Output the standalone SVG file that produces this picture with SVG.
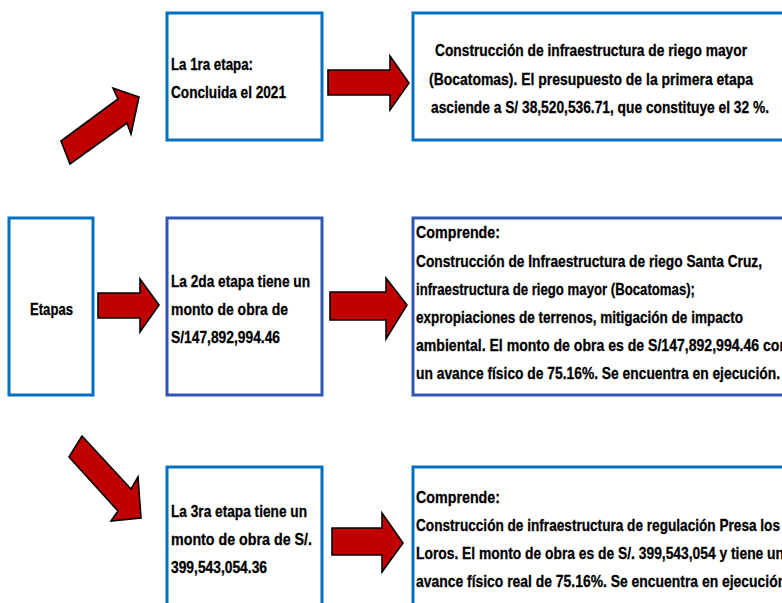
<svg xmlns="http://www.w3.org/2000/svg" width="782" height="603" viewBox="0 0 782 603">
<style>
.t{font-family:"Liberation Sans",Arial,sans-serif;font-weight:bold;font-size:17px;fill:#000;stroke:#000;stroke-width:0.3}
.b1{fill:#fff;stroke:#0070C0;stroke-width:3}
.b2{fill:#fff;stroke:#3055B8;stroke-width:3}
.ar{fill:#C00000;stroke:#000;stroke-width:1.6;stroke-linejoin:miter}
</style>
<rect width="782" height="603" fill="#fff"/>
<g id="connectors">
<polygon class="ar" points="61,141 118,99 113,88 139,97 131,134 127,123 70,164"/>
<polygon class="ar" points="98,293 140,293 140,279 159,305 140,332 140,318 98,318"/>
<polygon class="ar" points="82,436 131,489 138,477 141,518 111,521 118,511 69,457"/>
<polygon class="ar" points="328,70 390,70 390,56 409,83 390,110 390,95 328,95"/>
<polygon class="ar" points="330,292 386,292 386,278 407,305 386,339 386,320 330,320"/>
<polygon class="ar" points="332,528 382,528 382,513 403,543 382,572 382,555 332,555"/>
</g>
<g id="etapas">
<rect class="b1" x="9" y="218" width="84" height="177"/>
<text class="t" x="30" y="315" textLength="43" lengthAdjust="spacingAndGlyphs">Etapas</text>
</g>
<g id="etapa1">
<rect class="b1" x="167" y="13" width="155" height="127"/>
<text class="t" x="171" y="70" textLength="82" lengthAdjust="spacingAndGlyphs">La 1ra etapa:</text>
<text class="t" x="171" y="98" textLength="115" lengthAdjust="spacingAndGlyphs">Concluida el 2021</text>
</g>
<g id="detalle1">
<rect class="b1" x="413" y="13" width="374" height="127"/>
<text class="t" x="435" y="56" textLength="312" lengthAdjust="spacingAndGlyphs">Construcción de infraestructura de riego mayor</text>
<text class="t" x="429" y="85" textLength="324" lengthAdjust="spacingAndGlyphs">(Bocatomas). El presupuesto de la primera etapa</text>
<text class="t" x="431" y="113" textLength="338" lengthAdjust="spacingAndGlyphs">asciende a S/ 38,520,536.71, que constituye el 32 %.</text>
</g>
<g id="etapa2">
<rect class="b2" x="167" y="218" width="155" height="177"/>
<text class="t" x="171" y="287" textLength="139" lengthAdjust="spacingAndGlyphs">La 2da etapa tiene un</text>
<text class="t" x="171" y="315" textLength="117" lengthAdjust="spacingAndGlyphs">monto de obra de</text>
<text class="t" x="171" y="343" textLength="109" lengthAdjust="spacingAndGlyphs">S/147,892,994.46</text>
</g>
<g id="detalle2">
<rect class="b2" x="413" y="218" width="374" height="177"/>
<text class="t" x="416" y="238" textLength="84" lengthAdjust="spacingAndGlyphs">Comprende:</text>
<text class="t" x="416" y="267" textLength="346" lengthAdjust="spacingAndGlyphs">Construcción de Infraestructura de riego Santa Cruz,</text>
<text class="t" x="416" y="295" textLength="279" lengthAdjust="spacingAndGlyphs">infraestructura de riego mayor (Bocatomas);</text>
<text class="t" x="416" y="323" textLength="327" lengthAdjust="spacingAndGlyphs">expropiaciones de terrenos, mitigación de impacto</text>
<text class="t" x="416" y="351" textLength="372" lengthAdjust="spacingAndGlyphs">ambiental. El monto de obra es de S/147,892,994.46 con</text>
<text class="t" x="416" y="379" textLength="364" lengthAdjust="spacingAndGlyphs">un avance físico de 75.16%. Se encuentra en ejecución.</text>
</g>
<g id="etapa3">
<rect class="b1" x="167" y="467" width="155" height="160"/>
<text class="t" x="171" y="517" textLength="136" lengthAdjust="spacingAndGlyphs">La 3ra etapa tiene un</text>
<text class="t" x="171" y="545" textLength="141" lengthAdjust="spacingAndGlyphs">monto de obra de S/.</text>
<text class="t" x="171" y="573" textLength="96" lengthAdjust="spacingAndGlyphs">399,543,054.36</text>
</g>
<g id="detalle3">
<rect class="b1" x="413" y="467" width="374" height="160"/>
<text class="t" x="416" y="503" textLength="84" lengthAdjust="spacingAndGlyphs">Comprende:</text>
<text class="t" x="416" y="531" textLength="364" lengthAdjust="spacingAndGlyphs">Construcción de infraestructura de regulación Presa los</text>
<text class="t" x="416" y="559" textLength="368" lengthAdjust="spacingAndGlyphs">Loros. El monto de obra es de S/. 399,543,054 y tiene un</text>
<text class="t" x="416" y="587" textLength="374" lengthAdjust="spacingAndGlyphs">avance físico real de 75.16%. Se encuentra en ejecución.</text>
</g>
</svg>
